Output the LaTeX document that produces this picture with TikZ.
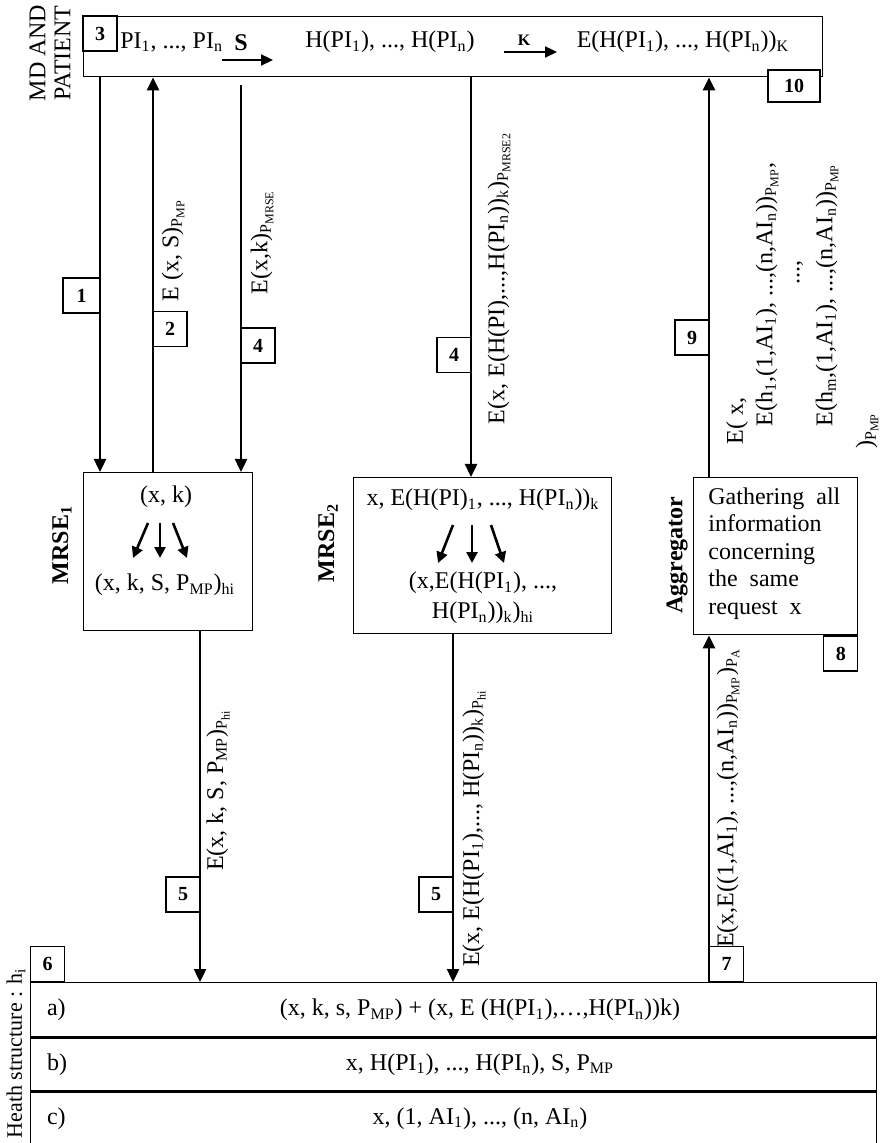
\documentclass[tikz,border=0pt]{standalone}
\usepackage{fontspec}
\setmainfont{Liberation Serif}
\usepackage{tikz}
\usetikzlibrary{arrows.meta,calc,positioning}
\newcommand{\ts}[1]{\textsubscript{#1}}
\tikzset{
  panel/.style={draw,line width=0.7pt,inner sep=0pt,anchor=north west},
  numbox/.style={draw,fill=white,line width=0.6pt,inner sep=0pt,
    minimum width=17pt,minimum height=17.5pt,font=\bfseries\fontsize{10}{12}\selectfont},
  msg/.style={line width=1.2pt,-{Triangle[length=6.5pt,width=6pt]}},
  hop/.style={line width=1.1pt,-{Triangle[length=6pt,width=5.5pt]}},
  fan/.style={line width=1.3pt,-{Triangle[length=5.5pt,width=5.5pt]}},
  vlabel/.style={rotate=90,inner sep=0pt},
  actor/.style={rotate=90,inner sep=0pt,font=\bfseries\fontsize{12}{14}\selectfont},
}

\begin{document}
\begin{tikzpicture}[x=0.5pt,y=-0.5pt,font=\fontsize{12}{14}\selectfont]
  \useasboundingbox (0,0) rectangle (886,1143);
  % MD and patient
  \node[panel,minimum width=369.5pt,minimum height=30pt] (mdp) at (83,16) {};
  \node[rotate=90,align=center,inner sep=0pt,font=\fontsize{12}{12.5}\selectfont]
    (mdlbl) at (50,53) {MD AND\\PATIENT};
  \node[numbox] (n3) at (100,33.5) {3};
  \node[anchor=west,inner sep=0pt] (pis) at (120,42) {PI\ts{1}, ..., PI\ts{n}};
  \node[font=\bfseries\fontsize{12}{14}\selectfont] (keyS) at (241,43) {S};
  \node (hpis) at (390,42) {H(PI\ts{1}), ..., H(PI\ts{n})};
  \node[font=\bfseries\fontsize{8}{10}\selectfont] (keyK) at (524,40) {K};
  \node (epis) at (683,42) {E(H(PI\ts{1}), ..., H(PI\ts{n}))\ts{K}};
  \coordinate (sa) at (222,60); \coordinate (sb) at (273,60);
  \coordinate (ka) at (504,52); \coordinate (kb) at (557,52);
  \draw[hop] (sa) -- (sb);
  \draw[hop] (ka) -- (kb);
  \node[numbox,minimum width=26pt,minimum height=16pt] (n10) at (794,86) {10};

  % MRSE1
  \node[panel,minimum width=84.5pt,minimum height=79pt] (mrse1) at (83,472) {};
  \node[actor] (m1lbl) at (62,545) {MRSE\ts{1}};
  \node (m1in) at (166,497) {(x, k)};
  \node (m1out) at (165,585) {(x, k, S, P\ts{MP})\ts{hi}};
  \foreach \a/\b in {-12/-27,0/0,13/27}
    \draw[fan] (160+\a,523) -- (160+\b,558);

  % MRSE2
  \node[panel,minimum width=129pt,minimum height=78pt] (mrse2) at (353,477) {};
  \node[actor] (m2lbl) at (328,543) {MRSE\ts{2}};
  \node (m2in) at (483,500) {x, E(H(PI)\ts{1}, ..., H(PI\ts{n}))\ts{k}};
  \node[align=center,font=\fontsize{12}{15}\selectfont] (m2out) at (483,598)
    {(x,E(H(PI\ts{1}), ...,\\H(PI\ts{n}))\ts{k})\ts{hi}};
  \foreach \a/\b in {-19/-34,0/0,19/32}
    \draw[fan] (472+\a,525) -- (472+\b,563);

  % aggregator
  \node[panel,minimum width=82pt,minimum height=78.5pt] (agg) at (693,477) {};
  \node[actor] (agglbl) at (677,555) {Aggregator};
  \node[anchor=north west,align=left,inner sep=0pt,font=\fontsize{12}{13.8}\selectfont]
    (aggtxt) at (708,487)
    {Gathering\ \ all\\information\\concerning\\the\ \ same\\request\ \ x};

  % heath structure
  \node[panel,minimum width=423pt,minimum height=27pt] (rowa) at (30,982) {};
  \node[panel,minimum width=423pt,minimum height=26.5pt,below=0pt of rowa] (rowb) {};
  \node[panel,minimum width=423pt,minimum height=26pt,below=0pt of rowb] (rowc) {};
  \node[rotate=90,inner sep=0pt,font=\fontsize{11}{13}\selectfont]
    (hslbl) at (16,1053) {Heath structure : h\ts{i}};
  \coordinate (xt) at (480,0);
  \node[anchor=west] (la) at ([xshift=5pt]rowa.west) {a)};
  \node[anchor=west] (lb) at ([xshift=5pt]rowb.west) {b)};
  \node[anchor=west] (lc) at ([xshift=5pt]rowc.west) {c)};
  \node (ta) at (rowa.center -| xt)
    {(x, k, s, P\ts{MP}) + (x, E (H(PI\ts{1}),…,H(PI\ts{n}))k)};
  \node (tb) at (rowb.center -| xt) {x, H(PI\ts{1}), ..., H(PI\ts{n}), S, P\ts{MP}};
  \node (tc) at (rowc.center -| xt) {x, (1, AI\ts{1}), ..., (n, AI\ts{n})};

  % messages
  \coordinate (xa1) at (100,0);
  \coordinate (xa2) at (153,0);
  \coordinate (s4) at (241,85);
  \coordinate (xa4) at (471,0);
  \coordinate (xa5) at (200,0);
  \coordinate (xb5) at (453,0);
  \coordinate (xa9) at (709,0);
  \draw[msg] (mdp.south -| xa1) -- (mrse1.north -| xa1);
  \draw[msg] (mrse1.north -| xa2) -- (mdp.south -| xa2);
  \draw[msg] (s4) -- (mrse1.north -| s4);
  \draw[msg] (mdp.south -| xa4) -- (mrse2.north -| xa4);
  \draw[msg] (mrse1.south -| xa5) -- (rowa.north -| xa5);
  \draw[msg] (mrse2.south -| xb5) -- (rowa.north -| xb5);
  \draw[msg] (rowa.north -| xa9) -- (agg.south -| xa9);
  \draw[msg] (agg.north -| xa9) -- (mdp.south -| xa9);

  % message labels
  \node[vlabel] (l2) at (173,250) {E (x, S)\ts{P\ts{MP}}};
  \node[vlabel] (l4a) at (262,242) {E(x,k)\ts{P\ts{MRSE}}};
  \node[vlabel] (l4b) at (499,278)
    {E(x, E(H(PI),...,H(PI\ts{n}))\ts{k})\ts{P\ts{MRSE2}}};
  \node[vlabel] (l5a) at (218,790) {E(x, k, S, P\ts{MP})\ts{P\ts{hi}}};
  \node[vlabel] (l5b) at (474,828)
    {E(x, E(H(PI\ts{1}),..., H(PI\ts{n}))\ts{k})\ts{P\ts{hi}}};
  \node[vlabel] (l7) at (728,798)
    {E(x,E((1,AI\ts{1}), ...,(n,AI\ts{n}))\ts{P\ts{MP}})\ts{P\ts{A}}};
  \node[vlabel,anchor=west] (l9a) at (737,445) {E( x,};
  \node[vlabel,anchor=west] (l9b) at (767,427)
    {E(h\ts{1},(1,AI\ts{1}), ...,(n,AI\ts{n}))\ts{P\ts{MP}},};
  \node[vlabel] (l9c) at (800,273) {...,};
  \node[vlabel,anchor=west] (l9d) at (827,427)
    {E(h\ts{m},(1,AI\ts{1}), ...,(n,AI\ts{n}))\ts{P\ts{MP}}};
  \node[vlabel,anchor=west] (l9e) at (867,449) {)\ts{P\ts{MP}}};

  % step numbers
  \node[numbox,minimum width=18.5pt] (n1) at (81.5,295.5) {1};
  \node[numbox] (n2) at (170,329) {2};
  \node[numbox] (n4a) at (258,345.5) {4};
  \node[numbox] (n4b) at (454,355) {4};
  \node[numbox] (n9) at (692,337.5) {9};
  \node[numbox] (n5a) at (183,894.5) {5};
  \node[numbox] (n5b) at (436,894.5) {5};
  \node[numbox,above right=0pt of rowa.north -| xa9] (n7) {7};
  \node[numbox,below left=0pt of agg.south east] (n8) {8};
  \node[numbox,above right=0pt of rowa.north west] (n6) {6};
\end{tikzpicture}
\end{document}
